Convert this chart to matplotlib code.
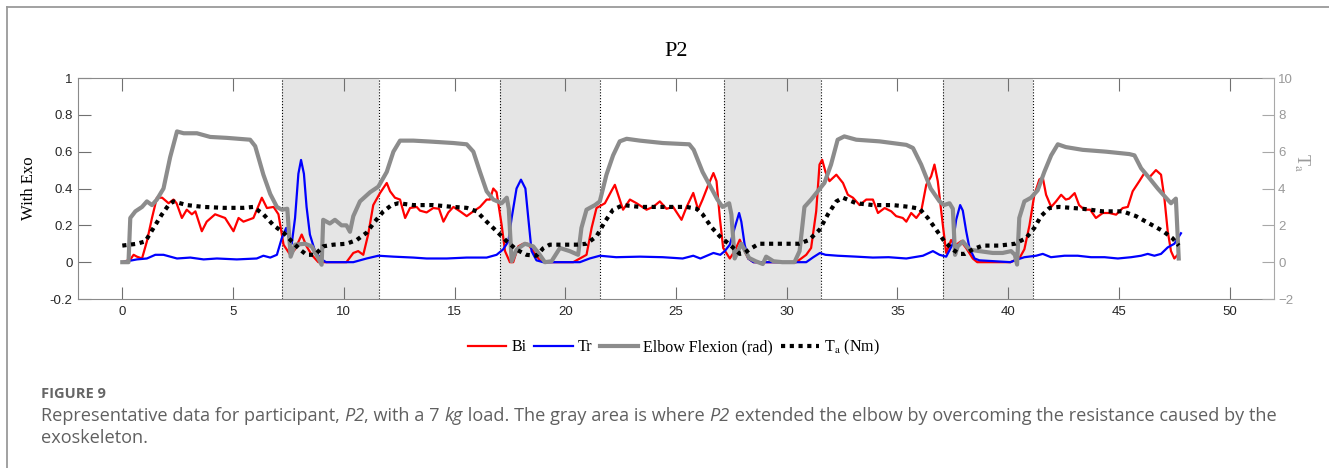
import matplotlib.pyplot as plt
from matplotlib.lines import Line2D

plt.rcParams['font.family'] = 'Liberation Sans'
plt.rcParams['mathtext.fontset'] = 'stix'

# ---- data (time in s) ----
bi_t = [0.0, 0.36, 0.51, 0.66, 0.89, 1.11, 1.34, 1.56, 1.8, 2.09, 2.31, 2.45, 2.69, 2.91, 3.14, 3.3,
        3.59, 3.81, 4.19, 4.64, 5.02, 5.25, 5.47, 5.92, 6.3, 6.53, 6.83, 7.05, 7.28, 7.58, 7.8, 8.1,
        8.32, 8.55, 8.85, 10.12, 10.43, 10.65, 10.88, 11.1, 11.33, 11.64, 11.94, 12.09, 12.31, 12.54,
        12.77, 12.99, 13.29, 13.44, 13.74, 14.04, 14.3, 14.5, 14.72, 14.95, 15.25, 15.55, 15.85, 16.15,
        16.45, 16.6, 16.75, 16.9, 17.13, 17.28, 17.5, 17.65, 17.88, 18.1, 18.3, 18.55, 18.85, 19.2,
        20.36, 20.66, 20.96, 21.19, 21.41, 21.79, 22.1, 22.24, 22.39, 22.61, 22.92, 23.22, 23.67, 23.97,
        24.27, 24.57, 24.87, 25.25, 25.48, 25.78, 26.0, 26.2, 26.46, 26.69, 26.83, 26.98, 27.13, 27.43,
        27.65, 27.88, 28.1, 28.26, 28.5, 30.43, 30.88, 31.1, 31.33, 31.48, 31.6, 31.75, 31.93, 32.24,
        32.54, 32.76, 32.99, 33.29, 33.59, 33.89, 34.12, 34.42, 34.72, 34.94, 35.24, 35.4, 35.62, 35.85,
        36.07, 36.3, 36.52, 36.67, 36.82, 37.05, 37.2, 37.42, 37.6, 37.87, 38.1, 38.4, 38.6, 40.1, 40.5,
        40.73, 40.96, 41.18, 41.41, 41.56, 41.71, 41.94, 42.16, 42.39, 42.6, 42.75, 43.0, 43.2, 43.44,
        43.7, 43.96, 44.27, 44.57, 44.87, 45.17, 45.4, 45.62, 45.92, 46.15, 46.37, 46.67, 46.9, 47.05,
        47.2, 47.35, 47.5, 47.65]
bi_v = [0.0, 0.014, 0.04, 0.03, 0.02, 0.113, 0.24, 0.35, 0.35, 0.32, 0.34, 0.32, 0.24, 0.285, 0.26, 0.276,
        0.168, 0.22, 0.26, 0.24, 0.168, 0.24, 0.22, 0.24, 0.35, 0.294, 0.30, 0.26, 0.095, 0.04, 0.07, 0.15,
        0.086, 0.04, 0.0, 0.0, 0.05, 0.06, 0.04, 0.15, 0.31, 0.376, 0.43, 0.385, 0.35, 0.34,
        0.24, 0.294, 0.30, 0.28, 0.27, 0.294, 0.29, 0.22, 0.27, 0.30, 0.276, 0.25, 0.276, 0.30,
        0.34, 0.34, 0.40, 0.38, 0.20, 0.06, 0.0, 0.0, 0.086, 0.10, 0.10, 0.06, 0.01, 0.0,
        0.0, 0.02, 0.04, 0.186, 0.294, 0.32, 0.39, 0.42, 0.366, 0.285, 0.34, 0.32, 0.285, 0.30,
        0.33, 0.29, 0.30, 0.23, 0.30, 0.376, 0.285, 0.34, 0.42, 0.484, 0.44, 0.24, 0.077, 0.02,
        0.06, 0.122, 0.06, 0.02, 0.0, 0.0, 0.04, 0.077, 0.276, 0.53, 0.556, 0.49, 0.44, 0.475,
        0.43, 0.366, 0.35, 0.31, 0.34, 0.34, 0.267, 0.294, 0.276, 0.25, 0.24, 0.22, 0.267, 0.24,
        0.276, 0.42, 0.466, 0.53, 0.44, 0.20, 0.05, 0.12, 0.09, 0.113, 0.077, 0.02, 0.0, 0.0, 0.02,
        0.07, 0.20, 0.366, 0.45, 0.46, 0.366, 0.30, 0.33, 0.366, 0.34, 0.345, 0.375, 0.31, 0.285,
        0.285, 0.24, 0.267, 0.267, 0.258, 0.294, 0.30, 0.385, 0.44, 0.484, 0.46, 0.50, 0.475, 0.35,
        0.17, 0.06, 0.02, 0.04]

tr_t = [0.0, 0.66, 1.11, 1.49, 1.86, 2.47, 3.07, 3.67, 4.27, 5.17, 6.07, 6.37, 6.68, 6.98, 7.2, 7.4,
        7.55, 7.65, 7.8, 7.95, 8.07, 8.2, 8.32, 8.47, 8.7, 9.0, 9.2, 10.43, 11.03, 11.56, 12.24, 13.14,
        13.74, 14.65, 15.55, 16.45, 16.9, 17.2, 17.43, 17.58, 17.8, 18.0, 18.2, 18.33, 18.48, 18.7, 19.0,
        20.66, 21.1, 21.56, 22.3, 23.37, 24.4, 25.3, 25.78, 26.1, 26.69, 27.0, 27.2, 27.43, 27.65, 27.85,
        27.95, 28.1, 28.26, 28.5, 30.88, 31.2, 31.5, 31.75, 32.3, 33.14, 33.89, 34.6, 35.4, 36.15, 36.6,
        36.9, 37.2, 37.5, 37.65, 37.83, 37.95, 38.1, 38.25, 38.48, 38.7, 40.1, 40.3, 40.73, 41.26, 41.56,
        41.93, 42.54, 43.14, 43.74, 44.35, 44.95, 45.55, 46.0, 46.3, 46.6, 46.9, 47.2, 47.5, 47.8]
tr_v = [0.0, 0.015, 0.02, 0.04, 0.04, 0.02, 0.025, 0.015, 0.02, 0.015, 0.02, 0.035, 0.025, 0.04, 0.13, 0.186,
        0.12, 0.10, 0.24, 0.48, 0.555, 0.48, 0.30, 0.15, 0.06, 0.015, 0.0, 0.0, 0.02, 0.035, 0.03, 0.025,
        0.02, 0.02, 0.025, 0.025, 0.04, 0.07, 0.113, 0.24, 0.40, 0.448, 0.40, 0.24, 0.06, 0.01, 0.0,
        0.0, 0.02, 0.035, 0.027, 0.03, 0.027, 0.02, 0.035, 0.02, 0.05, 0.04, 0.06, 0.095, 0.186, 0.267,
        0.22, 0.095, 0.02, 0.0, 0.0, 0.027, 0.05, 0.04, 0.035, 0.03, 0.025, 0.027, 0.02, 0.035, 0.06,
        0.04, 0.03, 0.10, 0.23, 0.31, 0.28, 0.17, 0.077, 0.02, 0.01, 0.0, 0.01, 0.027, 0.035, 0.045,
        0.027, 0.035, 0.035, 0.027, 0.027, 0.02, 0.027, 0.035, 0.045, 0.035, 0.045, 0.08, 0.10, 0.157]

elbow_t = [0.0, 0.28, 0.36, 0.59, 0.89, 1.11, 1.34, 1.56, 1.86, 2.16, 2.47, 2.77, 3.37, 3.97, 4.72, 5.77,
           6.0, 6.37, 6.68, 6.98, 7.2, 7.45, 7.6, 7.8, 8.25, 8.55, 8.77, 9.0, 9.07, 9.37, 9.6, 9.9, 10.12,
           10.28, 10.43, 10.73, 11.19, 11.56, 11.94, 12.24, 12.54, 13.14, 13.89, 14.95, 15.55, 15.85,
           16.15, 16.45, 16.75, 17.13, 17.36, 17.45, 17.58, 17.8, 18.18, 18.55, 18.85, 19.08, 19.38,
           19.76, 20.2, 20.58, 20.73, 20.96, 21.34, 21.56, 21.86, 22.16, 22.46, 22.77, 23.37, 24.4, 25.6,
           25.8, 26.2, 26.6, 26.87, 27.1, 27.4, 27.5, 27.65, 27.95, 28.3, 28.6, 28.92, 29.07, 29.4, 29.8,
           30.35, 30.58, 30.8, 31.1, 31.4, 31.7, 32.0, 32.3, 32.6, 33.14, 34.19, 35.4, 35.7, 36.07, 36.5,
           36.9, 37.1, 37.35, 37.5, 37.6, 37.72, 37.95, 38.25, 38.7, 39.3, 39.75, 40.13, 40.3, 40.4, 40.5,
           40.73, 41.03, 41.33, 41.63, 41.94, 42.24, 42.6, 43.36, 44.42, 45.47, 45.7, 46.0, 46.37, 46.75,
           47.12, 47.35, 47.57, 47.7]
elbow_v = [0.0, 0.0, 0.24, 0.276, 0.30, 0.33, 0.31, 0.34, 0.40, 0.57, 0.71, 0.70, 0.70, 0.68, 0.675, 0.665,
           0.63, 0.475, 0.37, 0.30, 0.285, 0.29, 0.03, 0.095, 0.10, 0.086, 0.04, -0.014, 0.23, 0.21, 0.23,
           0.20, 0.20, 0.165, 0.25, 0.33, 0.38, 0.41, 0.49, 0.60, 0.66, 0.66, 0.655, 0.647, 0.64, 0.60,
           0.49, 0.385, 0.34, 0.32, 0.35, 0.29, 0.005, 0.068, 0.10, 0.086, 0.04, 0.0, 0.005,
           0.077, 0.06, 0.04, 0.186, 0.285, 0.31, 0.33, 0.475, 0.58, 0.656, 0.67, 0.66, 0.647, 0.64,
           0.61, 0.49, 0.40, 0.34, 0.30, 0.32, 0.26, 0.02, 0.1, 0.023, 0.005, -0.01, 0.03, 0.005, 0.0,
           0.0, 0.06, 0.30, 0.34, 0.385, 0.43, 0.53, 0.665, 0.683, 0.665, 0.656, 0.637, 0.62, 0.53, 0.40,
           0.33, 0.31, 0.32, 0.29, 0.04, 0.086, 0.113, 0.068, 0.06, 0.05, 0.05, 0.06, 0.04, -0.013, 0.24,
           0.33, 0.35, 0.39, 0.49, 0.58, 0.64, 0.625, 0.61, 0.60, 0.587, 0.58, 0.51, 0.457, 0.40,
           0.35, 0.32, 0.345, 0.02]

ta_t = [0.0, 0.66, 1.04, 1.41, 1.79, 2.09, 2.31, 2.91, 3.67, 4.57, 5.47, 5.92, 6.37, 6.83, 7.28, 7.65,
        8.03, 8.32, 8.7, 9.07, 9.53, 10.12, 10.58, 11.03, 11.4, 11.79, 12.16, 12.46, 13.14, 14.04, 14.95,
        15.55, 16.0, 16.45, 16.9, 17.36, 17.8, 18.25, 18.7, 19.0, 19.3, 19.9, 20.5, 20.96, 21.41, 21.79,
        22.16, 22.61, 23.37, 24.4, 25.48, 25.93, 26.2, 26.6, 26.98, 27.43, 27.88, 28.1, 28.3, 28.74,
        29.64, 30.55, 31.0, 31.48, 31.86, 32.24, 32.54, 33.14, 33.89, 34.8, 35.55, 36.0, 36.37, 36.75,
        37.12, 37.5, 37.8, 38.05, 38.4, 38.85, 39.6, 40.3, 40.8, 41.18, 41.48, 41.86, 42.3, 43.36, 44.27,
        45.17, 45.77, 46.37, 46.97, 47.42, 47.7]
ta_v = [0.9, 1.0, 1.13, 1.86, 2.6, 3.1, 3.3, 3.1, 3.0, 2.95, 2.95, 3.0, 2.6, 2.0, 1.6, 1.13,
        0.68, 0.4, 0.4, 0.86, 0.95, 1.0, 1.2, 1.6, 2.2, 2.76, 3.1, 3.2, 3.1, 3.1, 3.0,
        2.95, 2.76, 2.2, 1.68, 1.13, 0.68, 0.4, 0.35, 0.75, 0.95, 0.95, 0.95, 1.0, 1.4, 2.2,
        2.85, 3.1, 3.0, 3.0, 3.0, 2.9, 2.6, 1.9, 1.4, 0.95, 0.45, 0.5, 0.68, 1.0,
        1.0, 1.0, 1.2, 1.76, 2.6, 3.3, 3.5, 3.2, 3.1, 3.1, 3.0, 2.9, 2.4, 1.76,
        1.13, 0.68, 0.45, 0.45, 0.7, 0.9, 0.9, 1.0, 1.3, 1.86, 2.5, 2.94, 3.0, 2.9, 2.76,
        2.76, 2.5, 2.1, 1.7, 1.3, 0.9]

ext_start = [7.2, 17.05, 27.15, 37.05]
ext_end = [11.6, 21.55, 31.55, 41.1]

x_ticks = list(range(0, 51, 5))
left_ticks = [-0.2, 0, 0.2, 0.4, 0.6, 0.8, 1]
left_labels = ['-0.2', '0', '0.2', '0.4', '0.6', '0.8', '1']
right_ticks = [-2, 0, 2, 4, 6, 8, 10]

fig = plt.figure(figsize=(13.29, 4.68), dpi=100)

# page frame (top and left edge of the figure box)
fig.add_artist(Line2D([0.0053, 1.0], [0.985, 0.985], color='#9a9a9a', lw=1.3, transform=fig.transFigure))
fig.add_artist(Line2D([0.0053, 0.0053], [0.0, 0.985], color='#9a9a9a', lw=1.3, transform=fig.transFigure))

ax = fig.add_axes([0.0587, 0.3611, 0.8999, 0.4722])
ax2 = ax.twinx()

for s, e in zip(ext_start, ext_end):
    ax.axvspan(s, e, color='#e5e5e5', lw=0, zorder=0)
    ax.axvline(s, color='black', lw=0.8, ls=':', zorder=1)
    ax.axvline(e, color='black', lw=0.8, ls=':', zorder=1)

l_bi, = ax.plot(bi_t, bi_v, color='#ff0000', lw=1.6, label='Bi')
l_tr, = ax.plot(tr_t, tr_v, color='#0000ff', lw=1.6, label='Tr')
l_el, = ax.plot(elbow_t, elbow_v, color='#8c8c8c', lw=3.0, label='Elbow Flexion (rad)')
l_ta, = ax2.plot(ta_t, ta_v, color='black', lw=3.0, ls=(0, (1, 1.1)), label=r'T$_\mathrm{a}$ (Nm)')

ax.set_xlim(-2, 52)
ax.set_ylim(-0.2, 1)
ax2.set_ylim(-2, 10)

ax.set_xticks(x_ticks)
ax.set_yticks(left_ticks)
ax.set_yticklabels(left_labels)
ax2.set_yticks(right_ticks)

axis_gray = '#8a8a8a'
right_gray = '#a8a8a8'
ax.tick_params(axis='x', direction='in', top=True, length=9, width=0.8, color='#707070',
               labelsize=9.5, pad=5, labelcolor='#262626')
ax.tick_params(axis='y', direction='in', right=False, length=9, width=0.8, color='#707070',
               labelsize=9.5, pad=4, labelcolor='#262626')
ax2.tick_params(axis='y', direction='in', length=9, width=0.8, color=right_gray,
                labelsize=9.5, pad=3, labelcolor='#999999')
for side in ['top', 'bottom', 'left']:
    ax.spines[side].set_color(axis_gray)
ax.spines['right'].set_visible(False)
for side in ['top', 'bottom', 'left']:
    ax2.spines[side].set_visible(False)
ax2.spines['right'].set_color(right_gray)

ax.set_title('P2', family='Liberation Serif', fontsize=16, pad=16)
ax.set_ylabel('With Exo', family='Liberation Serif', fontsize=12)
ax.yaxis.set_label_coords(-0.034, 0.5)
ax2.set_ylabel(r'T$_\mathrm{a}$', family='Liberation Serif', fontsize=13, color='#999999', rotation=270)
ax2.yaxis.set_label_coords(1.031, 0.62)

fig.legend([l_bi, l_tr, l_el, l_ta], [l.get_label() for l in [l_bi, l_tr, l_el, l_ta]],
           loc='center', bbox_to_anchor=(0.507, 0.258), ncol=4, frameon=False,
           prop={'family': 'Liberation Serif', 'size': 11.5},
           handlelength=2.4, handletextpad=0.3, columnspacing=0.5)

# caption
cap_color = '#606060'
fig.text(0.0305, 0.149, 'FIGURE 9', family='Open Sans', weight='bold', fontsize=10.5,
         color='#666666', va='baseline')

line1 = [('Representative data for participant, ', 'normal'), ('P2', 'italic'),
         (', with a 7 ', 'normal'), ('kg', 'italic'),
         (' load. The gray area is where ', 'normal'), ('P2', 'italic'),
         (' extended the elbow by overcoming the resistance caused by the', 'normal')]
renderer = fig.canvas.get_renderer()
x = 0.0305
for txt, style in line1:
    t = fig.text(x, 0.100, txt, family='Open Sans', style=style, fontsize=13.1,
                 color=cap_color, va='baseline')
    bb = t.get_window_extent(renderer=renderer)
    x = fig.transFigure.inverted().transform((bb.x1, bb.y0))[0]
fig.text(0.0305, 0.053, 'exoskeleton.', family='Open Sans', fontsize=13.1,
         color=cap_color, va='baseline')

fig.savefig('out.png', dpi=100)
